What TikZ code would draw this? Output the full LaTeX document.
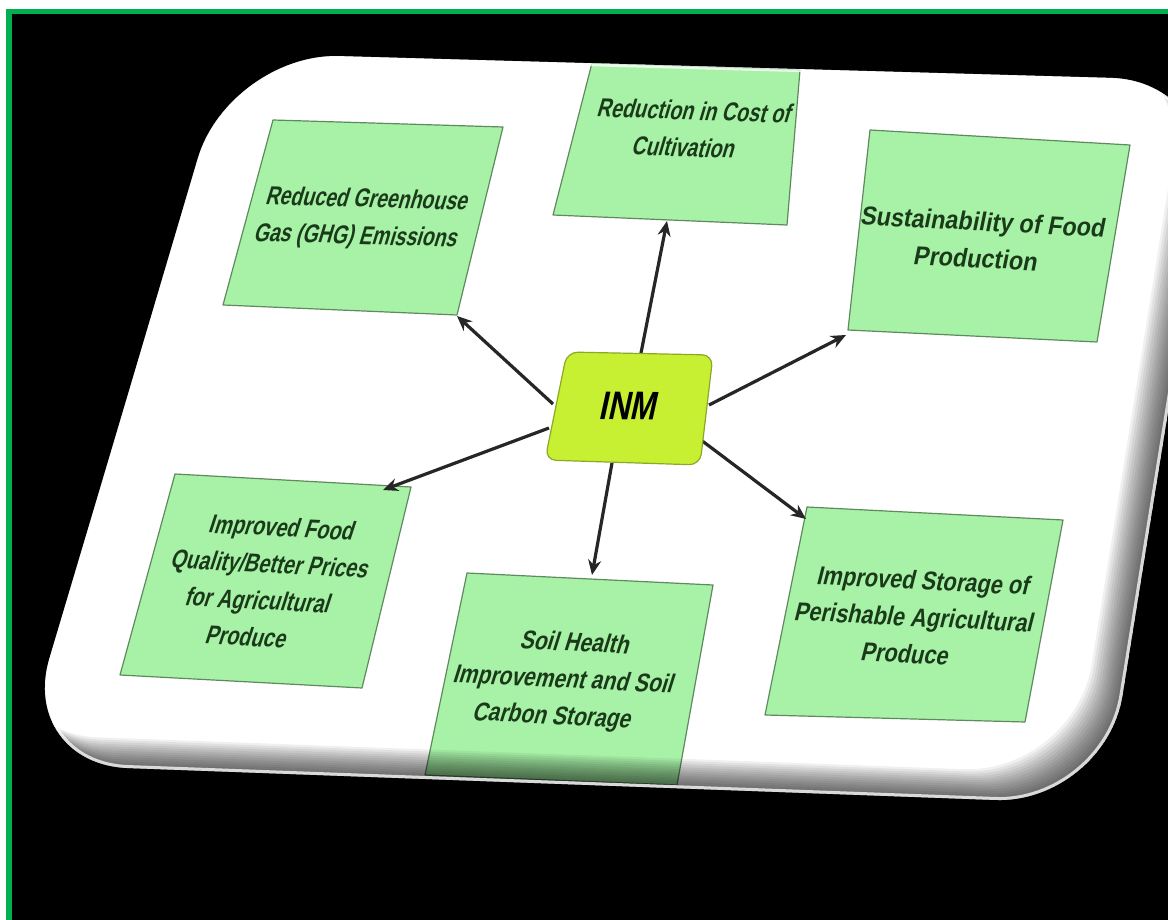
\documentclass[tikz,border=0pt]{standalone}
\usepackage{fontspec}
\setmainfont{Liberation Sans}
\usetikzlibrary{arrows.meta}
\definecolor{boxfill}{HTML}{A8F2A8}
\definecolor{boxline}{HTML}{5E8A5E}
\definecolor{txtg}{HTML}{1A3A1A}
\definecolor{inmfill}{HTML}{C8F032}
\definecolor{inmline}{HTML}{8CA828}
\definecolor{framegreen}{HTML}{00B050}
\begin{document}
\begin{tikzpicture}[x=1pt,y=-1pt,
  box/.style={fill=boxfill, draw=boxline, line width=1.2pt, line join=round},
  lbl/.style={font=\bfseries\fontsize{26}{37}\selectfont, text=txtg, align=center, transform shape, inner sep=0pt},
  arr/.style={line width=3.2pt, draw=black!85, -{Stealth[length=15pt,width=13pt]}}]
\useasboundingbox (0,0) rectangle (1168,920);
\fill[white] (0,0) rectangle (1168,920);
\fill[framegreen] (6,9) rectangle (1168,920);
\fill[black] (12,14) rectangle (1168,920);

% card
\fill[white, rounded corners=110pt] (124,408) -- (229,53) -- (1221,81) -- (1105,804) -- (18,764) -- cycle;

\begin{scope}
\clip[rounded corners=110pt] (124,408) -- (229,53) -- (1221,81) -- (1105,804) -- (18,764) -- cycle;
% boxes
\draw[box] (273,120) -- (503,127) -- (457,315) -- (223,305) -- cycle;
\draw[box] (592,63) -- (800,70) -- (787,225) -- (553,215) -- cycle;
\draw[box] (870,130) -- (1130,145) -- (1097,342) -- (848,330) -- cycle;
\draw[box] (175,474) -- (411,487) -- (362,688) -- (120,675) -- cycle;
\draw[box] (467,573) -- (713,585) -- (677,785) -- (425,775) -- cycle;
\draw[box] (807,507) -- (1063,520) -- (1025,722) -- (765,715) -- cycle;
% bevel shading along bottom and right edges
\foreach \k in {1,...,14}{
  \pgfmathsetmacro{\s}{2.2*\k}
  \fill[black, opacity=0.06, even odd rule, rounded corners=110pt]
    (124,408) -- (229,53) -- (1221,81) -- (1105,804) -- (18,764) -- cycle
    ({124-\s},{408-\s}) -- ({229-\s},{53-\s}) -- ({1221-\s},{81-\s}) -- ({1105-\s},{804-\s}) -- ({18-\s},{764-\s}) -- cycle;
}
\draw[white, opacity=0.75, line width=6pt, rounded corners=110pt]
  (124,408) -- (229,53) -- (1221,81) -- (1105,804) -- (18,764) -- cycle;
\end{scope}

% connectors
\coordinate (sGHG) at (553,404);  \coordinate (eGHG) at (457,316);
\coordinate (sCost) at (641,353); \coordinate (eCost) at (667,221);
\coordinate (sSus) at (709,405);  \coordinate (eSus) at (846,335);
\coordinate (sFood) at (549,428); \coordinate (eFood) at (383,490);
\coordinate (sSoil) at (612,463); \coordinate (eSoil) at (592,575);
\coordinate (sSto) at (697,437);  \coordinate (eSto) at (806,519);
\draw[arr] (sGHG) -- (eGHG);
\draw[arr] (sCost) -- (eCost);
\draw[arr] (sSus) -- (eSus);
\draw[arr] (sFood) -- (eFood);
\draw[arr] (sSoil) -- (eSoil);
\draw[arr] (sSto) -- (eSto);

% INM
\draw[fill=inmfill, draw=inmline, line width=1.2pt, rounded corners=11pt]
  (640,353.5) -- (713,355) -- (700,465) -- (545,460) -- (567,352) -- cycle;
\begin{scope}[shift={(630,406)}, rotate=-1, xslant=0.2, xscale=0.77]
\node[font=\bfseries\fontsize{40}{44}\selectfont, transform shape, inner sep=0pt] (inm) at (0,0) {INM};
\end{scope}

% labels
\begin{scope}[shift={(362,219)}, rotate=-1.7, xslant=0.27, xscale=0.75]
\node[lbl] (ghg) at (0,0) {Reduced Greenhouse\\Gas (GHG) Emissions};
\end{scope}
\begin{scope}[shift={(690,129)}, rotate=-1.9, xslant=0.26, xscale=0.76]
\node[lbl] (cost) at (0,0) {Reduction in Cost of\\Cultivation};
\end{scope}
\begin{scope}[shift={(980,240)}, rotate=-3, xslant=0.15, xscale=0.9]
\node[lbl] (sus) at (0,0) {Sustainability of Food\\Production};
\end{scope}
\begin{scope}[shift={(265,582)}, rotate=-3, xslant=0.27, xscale=0.77]
\node[lbl] (food) at (0,0) {Improved Food\\Quality/Better Prices\\for Agricultural\\Produce};
\end{scope}
\begin{scope}[shift={(564,681)}, rotate=-2.8, xslant=0.26, xscale=0.81]
\node[lbl] (soil) at (0,0) {Soil Health\\Improvement and Soil\\Carbon Storage};
\end{scope}
\begin{scope}[shift={(915,617)}, rotate=-2.9, xslant=0.2, xscale=0.84]
\node[lbl] (sto) at (0,0) {Improved Storage of\\Perishable Agricultural\\Produce};
\end{scope}
\end{tikzpicture}
\end{document}
